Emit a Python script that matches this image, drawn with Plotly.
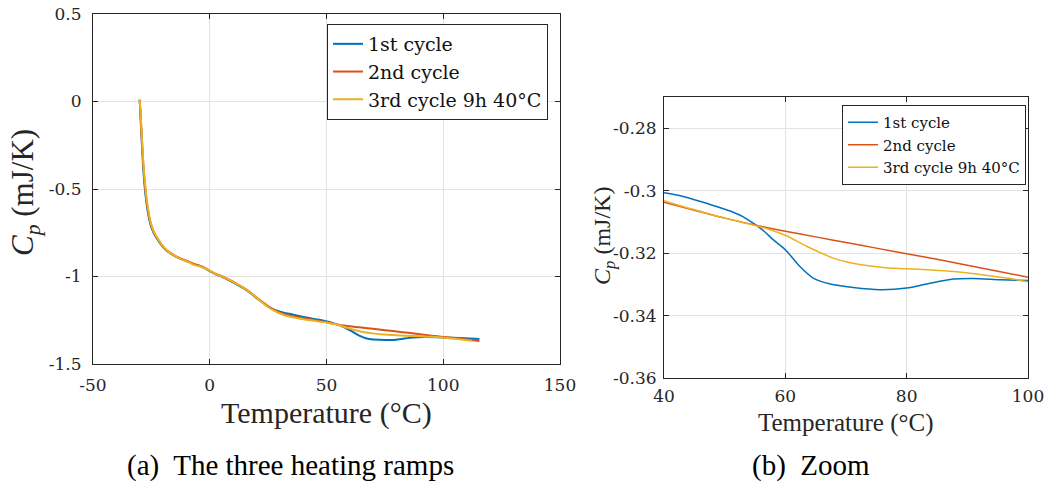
import plotly.graph_objects as go

W, H = 1045, 483

# ---------------- data: panel (a) ----------------
T_a_blue = [-30, -29.6, -29.2, -28.8, -28.4, -28, -27.5, -27, -26.4, -25.8, -25, -24, -23, -22, -20.5,
            -18.6, -16.5, -14.4, -12, -10, -8.7, -7.5, -6.5, -5.8, -4.8, -3.7, -2, 0, 2.5, 5.5, 8.5,
            11.3, 14, 17, 19.8, 22.5, 25, 27.5, 29.8, 32, 35, 38.3, 42, 46, 49.7, 52.5, 55.4, 58,
            61.1, 64, 66.8, 70, 75.4, 80, 86.8, 92, 99.6, 107, 115.5]
Cp_a_blue = [0.01, -0.10, -0.21, -0.31, -0.40, -0.47, -0.535, -0.59, -0.64, -0.68, -0.72, -0.752, -0.776,
             -0.795, -0.824, -0.851, -0.871, -0.888, -0.902, -0.912, -0.918, -0.926, -0.932, -0.934,
             -0.937, -0.943, -0.954, -0.969, -0.987, -1.003, -1.023, -1.043, -1.064, -1.091, -1.121,
             -1.148, -1.172, -1.19, -1.2, -1.208, -1.216, -1.226, -1.236, -1.246, -1.256, -1.265,
             -1.277, -1.293, -1.315, -1.338, -1.353, -1.36, -1.363, -1.361, -1.349, -1.346, -1.348,
             -1.352, -1.357]

T_a_red = [-30, -29.6, -29.2, -28.8, -28.4, -28, -27.5, -27, -26.4, -25.8, -25, -24, -23, -22, -20.5,
           -18.6, -16.5, -14.4, -12, -10, -8.7, -7.5, -6.5, -5.8, -4.8, -3.7, -2, 0, 2.5, 5.5, 8.5,
           11.3, 14, 17, 19.8, 22.5, 25, 27.5, 29.8, 32, 35, 38.3, 42, 46, 49.7, 52.5, 55.4, 60,
           65, 70, 75, 80, 85, 90, 95, 100, 105, 110, 115.5]
Cp_a_red = [0.01, -0.08, -0.18, -0.28, -0.37, -0.44, -0.51, -0.57, -0.625, -0.67, -0.71, -0.745, -0.77,
            -0.79, -0.82, -0.848, -0.868, -0.885, -0.9, -0.91, -0.916, -0.924, -0.93, -0.932, -0.935,
            -0.941, -0.952, -0.967, -0.985, -1.0, -1.02, -1.04, -1.06, -1.087, -1.117, -1.145, -1.17,
            -1.19, -1.205, -1.215, -1.225, -1.234, -1.243, -1.252, -1.26, -1.268, -1.277, -1.284,
            -1.292, -1.299, -1.307, -1.314, -1.322, -1.33, -1.338, -1.345, -1.352, -1.36, -1.368]

T_a_yellow = [-30, -29.6, -29.2, -28.8, -28.4, -28, -27.5, -27, -26.4, -25.8, -25, -24, -23, -22, -20.5,
              -18.6, -16.5, -14.4, -12, -10, -8.7, -7.5, -6.5, -5.8, -4.8, -3.7, -2, 0, 2.5, 5.5, 8.5,
              11.3, 14, 17, 19.8, 22.5, 25, 27.5, 29.8, 32, 35, 38.3, 42, 46, 49.7, 52.5, 55.4, 58,
              61.1, 65, 69.7, 75, 80, 86.8, 93, 99.6, 106, 112.4]
Cp_a_yellow = [0.01, -0.07, -0.17, -0.27, -0.36, -0.43, -0.50, -0.56, -0.615, -0.662, -0.705, -0.742,
               -0.768, -0.789, -0.82, -0.848, -0.869, -0.886, -0.902, -0.913, -0.92, -0.929, -0.935,
               -0.938, -0.94, -0.944, -0.954, -0.968, -0.986, -1.001, -1.021, -1.041, -1.062, -1.089,
               -1.119, -1.148, -1.174, -1.195, -1.21, -1.221, -1.231, -1.24, -1.248, -1.256, -1.263,
               -1.27, -1.277, -1.29, -1.302, -1.316, -1.325, -1.332, -1.336, -1.34, -1.344, -1.348,
               -1.357, -1.367]

# ---------------- data: panel (b) ----------------
T_b_blue = [40, 43, 45.9, 48.5, 51.4, 53, 54.7, 56.5, 58, 60, 62.4, 64.6, 67.4, 71.2, 75.6, 80, 83.3,
            87.7, 91, 95.4, 100]
Cp_b_blue = [-0.3007, -0.3018, -0.3034, -0.305, -0.3069, -0.3083, -0.3104, -0.313, -0.3157, -0.3189,
             -0.3243, -0.328, -0.3299, -0.331, -0.3317, -0.3312, -0.3299, -0.3283, -0.3281, -0.3285,
             -0.3288]
T_b_red = [40, 45, 50, 55, 60, 65, 70, 75, 80, 85, 90, 95, 100]
Cp_b_red = [-0.3037, -0.3063, -0.3088, -0.311, -0.313, -0.3148, -0.3166, -0.3184, -0.3202, -0.322,
            -0.3239, -0.3258, -0.3277]
T_b_yellow = [40, 43, 45.9, 50, 54.7, 57.5, 60, 63.5, 67.9, 70.5, 73.4, 76.5, 80, 84, 87.7, 92.7,
              96.5, 100]
Cp_b_yellow = [-0.3032, -0.305, -0.3066, -0.3088, -0.311, -0.3125, -0.3143, -0.3178, -0.3216, -0.323,
               -0.324, -0.3247, -0.325, -0.3254, -0.3259, -0.327, -0.328, -0.3292]

names = ["1st cycle", "2nd cycle", "3rd cycle 9h 40°C"]
colors = ["#0072BD", "#D95319", "#EDB120"]

xa_ticks = [-50, 0, 50, 100, 150]
xa_text = ["-50", "0", "50", "100", "150"]
ya_ticks = [0.5, 0, -0.5, -1, -1.5]
ya_text = ["0.5", "0", "-0.5", "-1", "-1.5"]
xb_ticks = [40, 60, 80, 100]
xb_text = ["40", "60", "80", "100"]
yb_ticks = [-0.28, -0.3, -0.32, -0.34, -0.36]
yb_text = ["-0.28", "-0.3", "-0.32", "-0.34", "-0.36"]

FONT = '"Liberation Serif", "Tinos", "Times New Roman", "DejaVu Serif", serif'
FONT_DV = "DejaVu Serif"
AX = "#262626"

fig = go.Figure()
series_a = [(T_a_blue, Cp_a_blue), (T_a_red, Cp_a_red), (T_a_yellow, Cp_a_yellow)]
series_b = [(T_b_blue, Cp_b_blue), (T_b_red, Cp_b_red), (T_b_yellow, Cp_b_yellow)]
for (x, y), n, c in zip(series_a, names, colors):
    fig.add_trace(go.Scatter(x=x, y=y, name=n, mode="lines",
                             line=dict(color=c, width=2, shape="spline", smoothing=0.5),
                             xaxis="x", yaxis="y", legend="legend"))
for (x, y), n, c in zip(series_b, names, colors):
    fig.add_trace(go.Scatter(x=x, y=y, name=n, mode="lines",
                             line=dict(color=c, width=1.5, shape="spline", smoothing=0.8),
                             xaxis="x2", yaxis="y2", legend="legend2"))

def px(v):
    return v / W

def py(v):
    return 1 - v / H

axis_common = dict(showline=True, linecolor=AX, linewidth=1, mirror="ticks", ticks="inside",
                   ticklen=5, tickcolor=AX, showgrid=True, gridcolor="#e3e3e3", gridwidth=1,
                   zeroline=False, automargin=False)
tickf = dict(family=FONT_DV, size=17, color=AX)

fig.update_layout(
    width=W, height=H, margin=dict(l=0, r=0, t=0, b=0, autoexpand=False),
    paper_bgcolor="white", plot_bgcolor="white",
    font=dict(family=FONT, color=AX),
    xaxis=dict(domain=[px(93), px(560)], range=[-50, 150], tickvals=xa_ticks, ticktext=xa_text,
               anchor="y", ticklabelstandoff=6, tickfont=tickf, **axis_common),
    yaxis=dict(domain=[py(364), py(14)], range=[-1.5, 0.5], tickvals=ya_ticks, ticktext=ya_text,
               anchor="x", ticklabelstandoff=7, tickfont=tickf, **axis_common),
    xaxis2=dict(domain=[px(664), px(1028)], range=[40, 100], tickvals=xb_ticks, ticktext=xb_text,
                anchor="y2", ticklabelstandoff=3, tickfont=tickf, **axis_common),
    yaxis2=dict(domain=[py(378), py(97)], range=[-0.36, -0.27], tickvals=yb_ticks, ticktext=yb_text,
                anchor="x2", ticklabelstandoff=3, tickfont=tickf, **axis_common),
    legend=dict(x=px(327), y=py(24), xanchor="left", yanchor="top", bgcolor="white",
                bordercolor=AX, borderwidth=1, font=dict(family=FONT_DV, size=19, color="#111111"),
                tracegroupgap=0),
    legend2=dict(x=px(842), y=py(105), xanchor="left", yanchor="top", bgcolor="white",
                 bordercolor=AX, borderwidth=1, font=dict(family=FONT_DV, size=15, color="#111111"),
                 tracegroupgap=0),
    showlegend=True,
)

ann = [
    dict(text="<i>C</i><sub><i>p</i></sub> (mJ/K)", x=px(25), y=py(193), textangle=-90, size=31),
    dict(text="Temperature (°C)", x=px(326), y=py(413), textangle=0, size=30),
    dict(text="<i>C</i><sub><i>p</i></sub> (mJ/K)", x=px(604), y=py(236), textangle=-90, size=24),
    dict(text="Temperature (°C)", x=px(846), y=py(423), textangle=0, size=25),
    dict(text="(a)  The three heating ramps", x=px(290), y=py(465), textangle=0, size=29, color="#000000"),
    dict(text="(b)  Zoom", x=px(811), y=py(465), textangle=0, size=29, color="#000000"),
]
for a in ann:
    fig.add_annotation(text=a["text"], x=a["x"], y=a["y"], xref="paper", yref="paper",
                       xanchor="center", yanchor="middle", showarrow=False, textangle=a["textangle"],
                       font=dict(family=FONT, size=a["size"], color=a.get("color", AX)))

fig.write_html("out.html", config={"displayModeBar": False},
               post_script="document.body.style.margin='0px';")
